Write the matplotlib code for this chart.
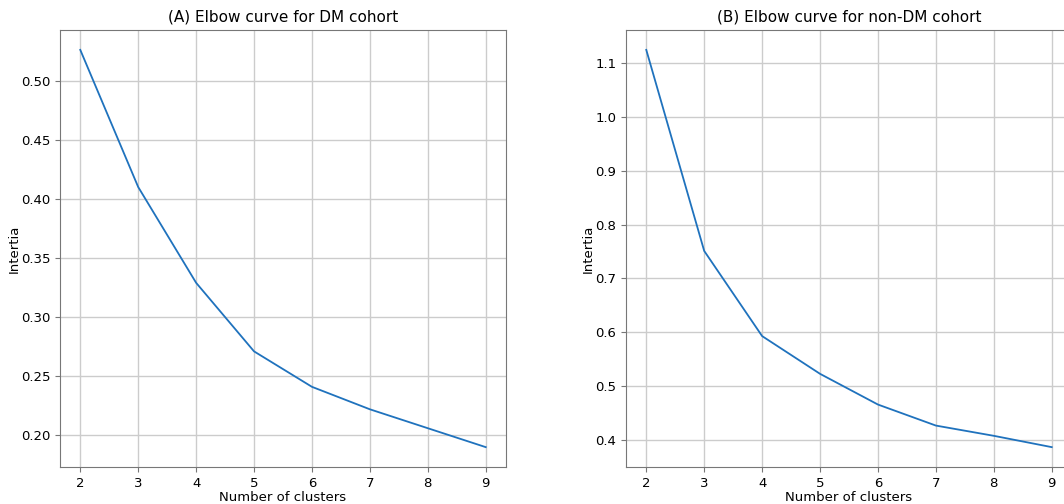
import matplotlib.pyplot as plt

# elbow curves
clusters = [2, 3, 4, 5, 6, 7, 8, 9]
inertia_dm = [0.526, 0.410, 0.329, 0.271, 0.241, 0.222, 0.206, 0.190]
inertia_non_dm = [1.124, 0.751, 0.593, 0.523, 0.466, 0.427, 0.408, 0.387]

W, H = 1064, 504
fig = plt.figure(figsize=(W / 100, H / 100), dpi=100)

# right panel runs past the edge, like the cropped original
ax1 = fig.add_axes([60 / W, 37 / H, 446 / W, 437 / H])
ax2 = fig.add_axes([626 / W, 37 / H, 446 / W, 437 / H])

panels = [
    (ax1, inertia_dm, '(A) Elbow curve for DM cohort'),
    (ax2, inertia_non_dm, '(B) Elbow curve for non-DM cohort'),
]

for ax, vals, title in panels:
    ax.plot(clusters, vals, color='#1f72bd', linewidth=1.3)
    ax.set_xticks(clusters)
    ax.grid(True, color='#cccccc', linewidth=1)
    ax.set_axisbelow(True)
    ax.set_title(title, fontsize=11)
    ax.set_xlabel('Number of clusters', fontsize=9.5, labelpad=1)
    ax.set_ylabel('Intertia', fontsize=9.5, labelpad=0)
    ax.tick_params(labelsize=9.5, color='#777777')
    for s in ax.spines.values():
        s.set_color('#777777')

fig.savefig('out.png', dpi=100)
